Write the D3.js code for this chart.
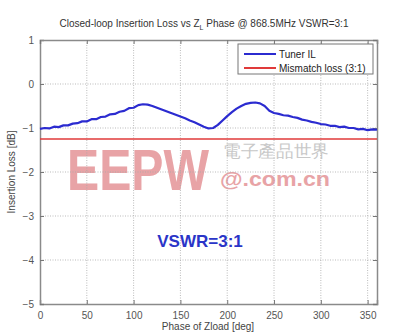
<!DOCTYPE html>
<html><head><meta charset="utf-8">
<script src="https://cdn.jsdelivr.net/npm/d3@7"></script>
<style>body{margin:0;background:#fff}svg{display:block}text{font-family:"Liberation Sans",Arial,sans-serif}</style>
</head><body><svg id="c" width="396" height="336"></svg>
<script>
const phaseDeg = [0,5,10,15,20,25,30,35,40,45,50,55,60,65,70,75,80,85,90,95,100,105,110,115,120,125,130,135,140,145,150,155,160,165,170,175,180,185,190,195,200,205,210,215,220,225,230,235,240,245,250,255,260,265,270,275,280,285,290,295,300,305,310,315,320,325,330,335,340,345,350,355,360];
const tunerIL = [-1.02,-1.00,-1.01,-0.97,-0.98,-0.94,-0.94,-0.90,-0.89,-0.85,-0.85,-0.80,-0.80,-0.75,-0.74,-0.69,-0.68,-0.63,-0.61,-0.55,-0.54,-0.48,-0.46,-0.47,-0.50,-0.54,-0.58,-0.62,-0.66,-0.70,-0.74,-0.78,-0.83,-0.87,-0.92,-0.97,-1.01,-1.00,-0.93,-0.83,-0.73,-0.64,-0.56,-0.50,-0.45,-0.43,-0.42,-0.44,-0.50,-0.61,-0.66,-0.68,-0.71,-0.72,-0.75,-0.77,-0.81,-0.83,-0.86,-0.88,-0.91,-0.92,-0.95,-0.95,-0.98,-0.97,-1.00,-1.00,-1.03,-1.02,-1.05,-1.03,-1.04];
const mismatchLoss = -1.249;
const xTicks = [0,50,100,150,200,250,300,350];
const yTicks = [1,0,-1,-2,-3,-4,-5];
const seriesNames = ["Tuner IL","Mismatch loss (3:1)"];

const svg = d3.select("#c");
const L=40,R=377,T=40,B=304;
const x = d3.scaleLinear().domain([0,360]).range([L,R]);
const y = d3.scaleLinear().domain([-5,1]).range([B,T]);

// watermark
const wm = svg.append("g");
wm.append("text").attr("transform","translate(67,190) scale(1,1.24)").attr("font-size",47).attr("font-weight",900)
  .attr("textLength",142).attr("lengthAdjust","spacingAndGlyphs")
  .attr("fill","#e8a3a6").text("EEPW");
wm.append("text").attr("x",223).attr("y",157).attr("font-size",17).attr("fill","#c8c8c8")
  .attr("textLength",106).attr("lengthAdjust","spacingAndGlyphs")
  .attr("font-family","'Noto Sans CJK TC',sans-serif").text("電子產品世界");
wm.append("text").attr("x",220).attr("y",186).attr("font-size",20).attr("font-weight",700)
  .attr("fill","#e8a3a6").attr("textLength",110).attr("lengthAdjust","spacingAndGlyphs").text("@.com.cn");

// grid
const grid = svg.append("g").attr("stroke","#aaa").attr("stroke-width",0.8).attr("stroke-dasharray","1,1.5");
grid.selectAll(".gx").data(xTicks.filter(d=>d>0)).join("line")
  .attr("x1",d=>x(d)).attr("x2",d=>x(d)).attr("y1",T).attr("y2",B);
grid.selectAll(".gy").data(yTicks.filter(d=>d>-5&&d<1)).join("line")
  .attr("y1",d=>y(d)).attr("y2",d=>y(d)).attr("x1",L).attr("x2",R);

// axes
const axB = svg.append("g").attr("transform",`translate(0,${B})`)
  .call(d3.axisBottom(x).tickValues(xTicks).tickSize(-4).tickPadding(8));
const axL = svg.append("g").attr("transform",`translate(${L},0)`)
  .call(d3.axisLeft(y).tickValues(yTicks).tickSize(-4).tickPadding(6).tickFormat(d3.format("d")));
const axT = svg.append("g").attr("transform",`translate(0,${T})`)
  .call(d3.axisTop(x).tickValues(xTicks).tickSize(-4).tickFormat(""));
const axR = svg.append("g").attr("transform",`translate(${R},0)`)
  .call(d3.axisRight(y).tickValues(yTicks).tickSize(-4).tickFormat(""));
[axB,axL,axT,axR].forEach(a=>{
  a.select(".domain").attr("stroke","#8a8a8a").attr("stroke-width",1.5);
  a.selectAll(".tick line").attr("stroke","#777");
  a.selectAll(".tick text").attr("fill","#555").attr("font-size",10);
});

// lines
svg.append("line").attr("x1",x(0)).attr("x2",x(360)).attr("y1",y(mismatchLoss)).attr("y2",y(mismatchLoss))
  .attr("stroke","#e03a3a").attr("stroke-width",1.6);
const line = d3.line().x((d,i)=>x(phaseDeg[i])).y(d=>y(d)).curve(d3.curveLinear);
svg.append("path").datum(tunerIL).attr("d",line).attr("fill","none")
  .attr("stroke","#2b2bd0").attr("stroke-width",2.2).attr("stroke-linejoin","round");

// legend
const lg = svg.append("g");
lg.append("rect").attr("x",238).attr("y",44).attr("width",135).attr("height",30)
  .attr("fill","#fff").attr("stroke","#777").attr("stroke-width",1);
[["#2b2bd0",54],["#e03a3a",68]].forEach((c,i)=>{
  lg.append("line").attr("x1",244).attr("x2",276).attr("y1",c[1]).attr("y2",c[1]).attr("stroke",c[0]).attr("stroke-width",2);
  lg.append("text").attr("x",279).attr("y",c[1]+3.5).attr("font-size",10).attr("fill","#222").text(seriesNames[i]);
});

// title & labels
const tt = svg.append("text").attr("x",204).attr("y",27).attr("text-anchor","middle").attr("font-size",10).attr("fill","#333");
tt.append("tspan").text("Closed-loop Insertion Loss vs Z");
tt.append("tspan").attr("font-size",7).attr("dy",3).text("L");
tt.append("tspan").attr("dy",-3).text(" Phase @ 868.5MHz VSWR=3:1");
svg.append("text").attr("x",208).attr("y",330).attr("text-anchor","middle").attr("font-size",10).attr("fill","#444").text("Phase of Zload [deg]");
svg.append("text").attr("transform","translate(15,172) rotate(-90)").attr("text-anchor","middle").attr("font-size",10).attr("fill","#444").text("Insertion Loss [dB]");
svg.append("text").attr("x",200).attr("y",247).attr("text-anchor","middle").attr("font-size",17).attr("font-weight",700).attr("fill","#2a35c8").text("VSWR=3:1");
</script></body></html>
